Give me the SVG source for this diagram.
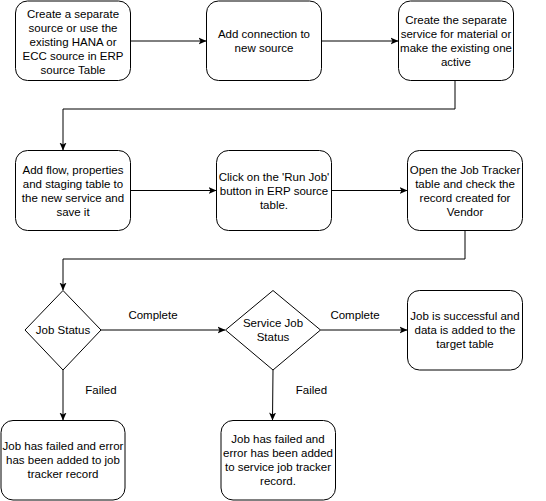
<svg xmlns="http://www.w3.org/2000/svg" width="546" height="501" viewBox="0 0 546 501">
<style>
.box{fill:#fff;stroke:#000;stroke-width:1}
.t{font-family:"Liberation Sans",Arial,Helvetica,sans-serif;font-size:11.5px;fill:#000;text-anchor:middle}
.c{fill:none;stroke:#000;stroke-width:1}
</style>
<defs>
<marker id="ah" viewBox="0 0 8 8" refX="7.5" refY="4" markerWidth="8" markerHeight="8" markerUnits="userSpaceOnUse" orient="auto">
<path d="M0,0.5 L8,4 L0,7.5 L2,4 Z" fill="#000"/>
</marker>
</defs>
<rect width="546" height="501" fill="#fff"/>
<g id="connectors">
<path class="c" d="M130.5,41 H206" marker-end="url(#ah)"/>
<path class="c" d="M321.5,41 H398" marker-end="url(#ah)"/>
<path class="c" d="M455,81 V109 H63 V150" marker-end="url(#ah)"/>
<path class="c" d="M130.5,190.5 H216" marker-end="url(#ah)"/>
<path class="c" d="M331.5,190.5 H407" marker-end="url(#ah)"/>
<path class="c" d="M465,230.5 V259 H63 V290" marker-end="url(#ah)"/>
<path class="c" d="M101,330 H225" marker-end="url(#ah)"/>
<path class="c" d="M320.5,330 H407" marker-end="url(#ah)"/>
<path class="c" d="M63,370 V420" marker-end="url(#ah)"/>
<path class="c" d="M273,370 L272.5,420" marker-end="url(#ah)"/>
<text class="t" x="153" y="319">Complete</text>
<text class="t" x="355" y="319">Complete</text>
<text class="t" x="101" y="394">Failed</text>
<text class="t" x="311.5" y="394">Failed</text>
</g>
<g id="nodeA">
<rect class="box" x="15.5" y="1" width="115" height="79.5" rx="12"/>
<text class="t" x="73" y="17.5">Create a separate</text>
<text class="t" x="73" y="31.5">source or use the</text>
<text class="t" x="73" y="45.5">existing HANA or</text>
<text class="t" x="73" y="59.5">ECC source in ERP</text>
<text class="t" x="73" y="73.5">source Table</text>
</g>
<g id="nodeB">
<rect class="box" x="206.5" y="1" width="115" height="79.5" rx="12"/>
<text class="t" x="264" y="38">Add connection to</text>
<text class="t" x="264" y="52">new source</text>
</g>
<g id="nodeC">
<rect class="box" x="398.5" y="1" width="115" height="79.5" rx="12"/>
<text class="t" x="456" y="24">Create the separate</text>
<text class="t" x="456" y="38">service for material or</text>
<text class="t" x="456" y="52">make the existing one</text>
<text class="t" x="456" y="66">active</text>
</g>
<g id="nodeD">
<rect class="box" x="15.5" y="150.5" width="115" height="80" rx="12"/>
<text class="t" x="73" y="173.5">Add flow, properties</text>
<text class="t" x="73" y="187.5">and staging table to</text>
<text class="t" x="73" y="201.5">the new service and</text>
<text class="t" x="73" y="215.5">save it</text>
</g>
<g id="nodeE">
<rect class="box" x="216.5" y="150.5" width="115" height="80" rx="12"/>
<text class="t" x="274" y="180.5">Click on the 'Run Job'</text>
<text class="t" x="274" y="194.5">button in ERP source</text>
<text class="t" x="274" y="208.5">table.</text>
</g>
<g id="nodeF">
<rect class="box" x="407.5" y="150.5" width="115" height="80" rx="12"/>
<text class="t" x="465" y="173.5">Open the Job Tracker</text>
<text class="t" x="465" y="187.5">table and check the</text>
<text class="t" x="465" y="201.5">record created for</text>
<text class="t" x="465" y="215.5">Vendor</text>
</g>
<g id="decision1">
<polygon class="box" points="63,290.5 101,330 63,370 25,330"/>
<text class="t" x="63" y="334">Job Status</text>
</g>
<g id="decision2">
<polygon class="box" points="273,290.5 320.5,330 273,370 225.5,330"/>
<text class="t" x="273" y="327">Service Job</text>
<text class="t" x="273" y="341">Status</text>
</g>
<g id="nodeG">
<rect class="box" x="407.5" y="290.5" width="115" height="79.5" rx="12"/>
<text class="t" x="465" y="320">Job is successful and</text>
<text class="t" x="465" y="334">data is added to the</text>
<text class="t" x="465" y="348">target table</text>
</g>
<g id="nodeH">
<rect class="box" x="1" y="420.5" width="124" height="79.5" rx="12"/>
<text class="t" x="63" y="450">Job has failed and error</text>
<text class="t" x="63" y="464">has been added to job</text>
<text class="t" x="63" y="478">tracker record</text>
</g>
<g id="nodeI">
<rect class="box" x="221" y="420.5" width="114.5" height="79.5" rx="12"/>
<text class="t" x="278" y="443">Job has failed and</text>
<text class="t" x="278" y="457">error has been added</text>
<text class="t" x="278" y="471">to service job tracker</text>
<text class="t" x="278" y="485">record.</text>
</g>
</svg>
